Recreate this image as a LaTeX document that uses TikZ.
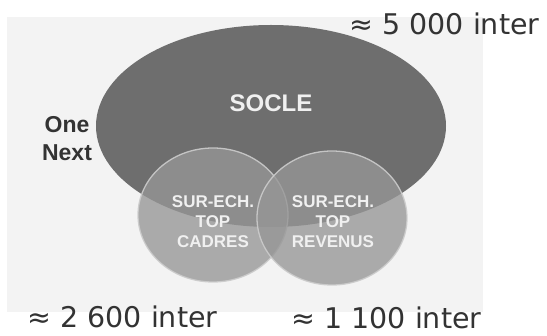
\documentclass[tikz,border=0pt]{standalone}
\usepackage{fontspec}
\usetikzlibrary{calc}
\newfontfamily\interfont{DejaVu Sans}
\newfontfamily\vennfont{Liberation Sans}
\definecolor{bgpaper}{HTML}{F3F3F3}
\definecolor{soclegray}{HTML}{6E6E6E}
\definecolor{ringgray}{HTML}{969696}
\definecolor{inktext}{HTML}{333333}

\begin{document}
\begin{tikzpicture}[x=1pt, y=-1pt,
    count/.style={font=\interfont\fontsize{28.5}{34}\selectfont, text=inktext, inner sep=0pt, anchor=base},
    sidetext/.style={font=\vennfont\bfseries\fontsize{23}{28}\selectfont, text=inktext, inner sep=0pt, anchor=base},
    venntext/.style={font=\vennfont\bfseries\fontsize{17}{20}\selectfont, text=white!94!black, align=center, inner sep=0pt},
    ring/.style={fill=ringgray, fill opacity=0.78, draw=white!80!black, draw opacity=0.9, line width=1.3pt}]
    
    \useasboundingbox (0,0) rectangle (547,336);
    \fill[bgpaper] (7,17) rectangle (483,312);
    
    \coordinate (sc) at (271,126);
    
    \coordinate (lc) at (213,215);
    
    \coordinate (rc) at ($(lc) + (119, 3)$);
    
    \fill[soclegray] (sc) ellipse [x radius=175, y radius=101];
    \path[ring] (lc) ellipse [x radius=75, y radius=67];
    \path[ring] (rc) ellipse [x radius=75, y radius=67];
    
    \node[sidetext, text=white!94!black, font=\vennfont\bfseries\fontsize{24}{28}\selectfont] (socle) at ($(sc) + (0, -14)$) {SOCLE};
    
    \node[venntext] (cadres) at ($(lc) + (0, 7)$) {SUR-ECH.\\TOP\\CADRES};
    
    \node[venntext] (revenus) at ($(rc) + (1, 4)$) {SUR-ECH.\\TOP\\REVENUS};
    
    \node[sidetext] (one) at (67,133) {One};
    
    \node[sidetext] (next) at ($(one.base) + (0, 28)$) {Next};
    
    
    
    \node[count] (total) at (444.5,35) {≈ 5 000 inter};
    \node[count] (cadresnb) at (122.5,328) {≈ 2 600 inter};
    \node[count] (revenusnb) at (386.5,329) {≈ 1 100 inter};
    
\end{tikzpicture}
\end{document}
